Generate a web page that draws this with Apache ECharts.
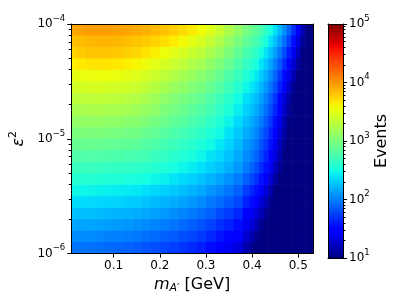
<!DOCTYPE html>
<html><head><meta charset="utf-8">
<script src="https://cdn.jsdelivr.net/npm/echarts@6/dist/echarts.min.js"></script>
<style>html,body{margin:0;padding:0;background:#fff}#c{width:399px;height:299px}</style>
</head><body><div id="c"></div>
<script>
// ---- data ----
const massCenters = [0.01,0.03,0.05,0.07,0.09,0.11,0.13,0.15,0.17,0.19,0.21,0.23,0.25,0.27,0.29,0.31,0.33,0.35,0.37,0.39,
  0.40,0.41,0.42,0.43,0.44,0.45,0.46,0.47,0.48,0.49,0.50,0.51,0.52,0.53];
const eps2Exponents = [-5.95,-5.85,-5.75,-5.65,-5.55,-5.45,-5.35,-5.25,-5.15,-5.05,-4.95,-4.85,-4.75,-4.65,-4.55,-4.45,-4.35,-4.25,-4.15,-4.05];
// log10(Events); one row per eps^2 value (bottom to top), one column per mass
const log10Events = [
[1.96,1.95,1.94,1.93,1.91,1.90,1.88,1.86,1.83,1.80,1.77,1.74,1.70,1.66,1.61,1.54,1.46,1.40,1.33,1.16,1.05,0.94,0.83,0.71,0.58,0.46,0.36,0.26,0.16,0.06,0.03,0.00,0.00,0.00],
[2.06,2.05,2.04,2.03,2.01,2.00,1.99,1.97,1.94,1.91,1.88,1.85,1.81,1.77,1.72,1.65,1.57,1.51,1.44,1.27,1.17,1.06,0.95,0.83,0.70,0.57,0.46,0.35,0.25,0.15,0.09,0.03,0.01,0.00],
[2.16,2.15,2.15,2.14,2.12,2.11,2.09,2.07,2.05,2.02,1.99,1.95,1.91,1.87,1.82,1.76,1.68,1.62,1.54,1.39,1.29,1.18,1.07,0.95,0.81,0.67,0.56,0.45,0.34,0.23,0.16,0.10,0.07,0.05],
[2.26,2.25,2.25,2.24,2.22,2.21,2.20,2.18,2.16,2.13,2.10,2.06,2.02,1.98,1.93,1.87,1.79,1.73,1.65,1.50,1.40,1.30,1.19,1.07,0.93,0.78,0.66,0.54,0.43,0.32,0.24,0.17,0.13,0.09],
[2.37,2.37,2.36,2.35,2.34,2.33,2.31,2.30,2.27,2.24,2.21,2.18,2.14,2.10,2.05,1.98,1.92,1.85,1.77,1.63,1.53,1.43,1.31,1.19,1.05,0.90,0.77,0.64,0.52,0.41,0.33,0.26,0.20,0.14],
[2.47,2.47,2.46,2.45,2.44,2.43,2.42,2.41,2.38,2.35,2.32,2.29,2.25,2.21,2.16,2.09,2.03,1.96,1.88,1.74,1.65,1.55,1.43,1.31,1.16,1.01,0.87,0.73,0.61,0.50,0.41,0.33,0.25,0.18],
[2.58,2.58,2.58,2.57,2.56,2.55,2.53,2.52,2.50,2.47,2.44,2.40,2.36,2.32,2.27,2.21,2.15,2.08,1.99,1.87,1.78,1.68,1.56,1.44,1.28,1.12,0.98,0.84,0.71,0.59,0.50,0.41,0.32,0.24],
[2.68,2.68,2.68,2.67,2.66,2.65,2.64,2.63,2.61,2.58,2.55,2.51,2.47,2.43,2.38,2.32,2.26,2.19,2.10,1.98,1.89,1.80,1.68,1.56,1.40,1.23,1.08,0.93,0.80,0.68,0.58,0.48,0.38,0.28],
[2.79,2.79,2.79,2.79,2.78,2.77,2.75,2.74,2.72,2.68,2.65,2.60,2.56,2.52,2.47,2.40,2.34,2.26,2.17,2.05,1.97,1.88,1.76,1.64,1.48,1.32,1.16,1.00,0.86,0.73,0.62,0.52,0.42,0.32],
[2.89,2.89,2.90,2.89,2.88,2.87,2.86,2.84,2.81,2.78,2.73,2.69,2.64,2.60,2.54,2.48,2.41,2.33,2.23,2.11,2.03,1.95,1.83,1.71,1.55,1.39,1.22,1.06,0.91,0.77,0.66,0.56,0.46,0.36],
[2.99,3.00,3.00,3.00,2.99,2.98,2.96,2.95,2.91,2.87,2.82,2.77,2.73,2.68,2.62,2.55,2.48,2.39,2.29,2.18,2.10,2.02,1.90,1.78,1.63,1.47,1.29,1.12,0.97,0.82,0.70,0.59,0.49,0.39],
[3.10,3.11,3.11,3.11,3.10,3.09,3.07,3.06,3.02,2.97,2.92,2.86,2.82,2.76,2.71,2.63,2.55,2.46,2.36,2.25,2.17,2.09,1.98,1.86,1.71,1.55,1.36,1.18,1.02,0.87,0.75,0.63,0.53,0.43],
[3.21,3.22,3.23,3.23,3.22,3.21,3.19,3.17,3.12,3.08,3.01,2.96,2.91,2.85,2.79,2.72,2.63,2.54,2.43,2.32,2.25,2.17,2.06,1.94,1.79,1.64,1.44,1.25,1.08,0.92,0.80,0.68,0.58,0.48],
[3.31,3.32,3.33,3.33,3.32,3.31,3.29,3.27,3.22,3.17,3.10,3.04,2.99,2.93,2.87,2.79,2.70,2.60,2.49,2.38,2.31,2.24,2.13,2.01,1.86,1.71,1.51,1.31,1.13,0.96,0.83,0.71,0.61,0.51],
[3.41,3.43,3.44,3.44,3.43,3.42,3.40,3.38,3.33,3.28,3.21,3.15,3.10,3.03,2.97,2.89,2.80,2.69,2.58,2.47,2.40,2.33,2.22,2.10,1.96,1.81,1.62,1.42,1.24,1.06,0.91,0.77,0.65,0.54],
[3.51,3.53,3.55,3.55,3.55,3.53,3.51,3.48,3.43,3.38,3.32,3.26,3.20,3.14,3.07,2.99,2.89,2.78,2.67,2.55,2.48,2.41,2.30,2.19,2.05,1.90,1.72,1.53,1.35,1.17,1.00,0.83,0.70,0.58],
[3.62,3.65,3.67,3.68,3.67,3.66,3.63,3.60,3.55,3.50,3.44,3.38,3.32,3.25,3.19,3.10,3.00,2.89,2.77,2.65,2.58,2.51,2.40,2.29,2.15,2.01,1.84,1.66,1.47,1.28,1.10,0.91,0.76,0.62],
[3.74,3.78,3.80,3.81,3.80,3.79,3.76,3.73,3.68,3.63,3.56,3.50,3.44,3.37,3.31,3.22,3.12,3.00,2.87,2.75,2.68,2.61,2.51,2.40,2.27,2.13,1.96,1.79,1.60,1.40,1.20,0.99,0.83,0.67],
[3.82,3.85,3.87,3.88,3.88,3.86,3.84,3.81,3.78,3.74,3.70,3.64,3.58,3.51,3.44,3.35,3.24,3.12,2.99,2.87,2.80,2.73,2.63,2.52,2.39,2.25,2.09,1.93,1.74,1.54,1.31,1.08,0.91,0.74],
[3.93,3.96,3.98,3.98,3.97,3.96,3.94,3.92,3.89,3.86,3.82,3.77,3.71,3.64,3.57,3.48,3.37,3.24,3.11,2.98,2.91,2.84,2.74,2.64,2.51,2.38,2.23,2.07,1.87,1.67,1.42,1.17,0.99,0.80]
];
const xTicks = [0.1, 0.2, 0.3, 0.4, 0.5];
const yDecadeExps = [-6, -5, -4];
const cbDecadeExps = [1, 2, 3, 4, 5];
const minorMultipliers = [2, 3, 4, 5, 6, 7, 8, 9];

// ---- styling / helpers ----
const FONT = 'DejaVu Sans';
function interp(pts, t) {
  for (let i = 1; i < pts.length; i++) {
    if (t <= pts[i][0]) {
      const [t0, v0] = pts[i - 1], [t1, v1] = pts[i];
      return v0 + (v1 - v0) * (t - t0) / (t1 - t0);
    }
  }
  return pts[pts.length - 1][1];
}
function jet(t) {
  const r = interp([[0,0],[0.35,0],[0.66,1],[0.89,1],[1,0.5]], t);
  const g = interp([[0,0],[0.125,0],[0.375,1],[0.64,1],[0.91,0],[1,0]], t);
  const b = interp([[0,0.5],[0.11,1],[0.34,1],[0.65,0],[1,0]], t);
  return 'rgb(' + Math.round(r*255) + ',' + Math.round(g*255) + ',' + Math.round(b*255) + ')';
}
const NSTOP = 64;
const jetColors = [];
for (let i = 0; i <= NSTOP; i++) jetColors.push(jet(i / NSTOP));
const cbStops = jetColors.map((c, i) => ({ offset: i / NSTOP, color: c }));

// cell edges along mass: midpoints between neighbouring centres
const nM = massCenters.length;
const massEdgeLo = massCenters.map((c, j) => j === 0 ? c - (massCenters[1] - c) / 2 : (massCenters[j - 1] + c) / 2);
const massEdgeHi = massCenters.map((c, j) => j === nM - 1 ? c + (c - massCenters[nM - 2]) / 2 : (c + massCenters[j + 1]) / 2);
const dL = eps2Exponents[1] - eps2Exponents[0];

const cMin = cbDecadeExps[0], cMax = cbDecadeExps[cbDecadeExps.length - 1];
const heatData = [];
eps2Exponents.forEach((L, k) => massCenters.forEach((m, j) => {
  const v = log10Events[k][j];
  heatData.push([m, Math.pow(10, L), Math.min(cMax, Math.max(cMin, v)), v, j]);
}));

const minorY = [];
yDecadeExps.slice(0, -1).forEach(e => minorMultipliers.forEach(k => minorY.push(e + Math.log10(k))));
const minorC = [];
cbDecadeExps.slice(0, -1).forEach(e => minorMultipliers.forEach(k => minorC.push(e + Math.log10(k))));

function powLabel(v) {
  const e = Math.round(Math.log10(v));
  return '{b|10}{s|' + (e < 0 ? '\u2212' : '') + Math.abs(e) + '}';
}
const tickRich = {
  b: { fontSize: 12, fontFamily: FONT, color: '#000' },
  s: { fontSize: 8.5, fontFamily: FONT, color: '#000', padding: [0, 0, 11, 0] }
};
const black = { color: '#000', width: 1 };
const lineOnly = (extra) => Object.assign({
  axisLine: { show: true, onZero: false, lineStyle: black },
  axisTick: { show: false }, axisLabel: { show: false }, splitLine: { show: false }, z: 10
}, extra);

const chart = echarts.init(document.getElementById('c'), null, { renderer: 'canvas', width: 399, height: 299 });
chart.setOption({
  animation: false,
  backgroundColor: '#fff',
  grid: [
    { left: 69, top: 24, width: 244, height: 234 },
    { left: 328, top: 24, width: 15, height: 234 }
  ],
  visualMap: {
    type: 'continuous', min: cMin, max: cMax, dimension: 2, seriesIndex: 0, show: false,
    inRange: { color: jetColors }
  },
  xAxis: [
    {
      gridIndex: 0, type: 'value', min: 0.008, max: 0.532, position: 'bottom', z: 10,
      axisLine: { show: true, onZero: false, lineStyle: black },
      axisTick: { show: true, customValues: xTicks, length: 4, lineStyle: black },
      axisLabel: { customValues: xTicks, formatter: v => v.toFixed(1), fontSize: 12, fontFamily: FONT, color: '#000', margin: 6 },
      splitLine: { show: false },
      name: '{i|m}{sub|A\u2032}{n| [GeV]}', nameLocation: 'middle', nameGap: 16,
      nameTextStyle: { rich: {
        i: { fontSize: 16, fontFamily: FONT, fontStyle: 'italic', color: '#000' },
        sub: { fontSize: 11, fontFamily: FONT, fontStyle: 'italic', color: '#000', padding: [8, 0, 0, 0] },
        n: { fontSize: 16, fontFamily: FONT, color: '#000' }
      } }
    },
    lineOnly({ gridIndex: 0, type: 'value', min: 0.008, max: 0.532, position: 'top' }),
    lineOnly({ gridIndex: 1, type: 'value', min: 0, max: 1, position: 'bottom' }),
    lineOnly({ gridIndex: 1, type: 'value', min: 0, max: 1, position: 'top' })
  ],
  yAxis: [
    {
      gridIndex: 0, type: 'log', logBase: 10, min: Math.pow(10, yDecadeExps[0]), max: Math.pow(10, yDecadeExps[yDecadeExps.length - 1]),
      position: 'left', z: 10,
      axisLine: { show: true, onZero: false, lineStyle: black },
      axisTick: { show: true, length: 4, lineStyle: black },
      axisLabel: { formatter: powLabel, margin: 6, rich: tickRich, showMinLabel: true, showMaxLabel: true },
      splitLine: { show: false },
      name: '{e|\u03b5}{s|2}', nameLocation: 'middle', nameRotate: 90, nameGap: 42,
      nameTextStyle: { rich: {
        e: { fontSize: 16, fontFamily: FONT, fontStyle: 'italic', color: '#000' },
        s: { fontSize: 11, fontFamily: FONT, color: '#000', padding: [0, 0, 10, 0] }
      } }
    },
    {
      gridIndex: 0, type: 'value', min: yDecadeExps[0], max: yDecadeExps[yDecadeExps.length - 1], position: 'left', z: 10,
      axisLine: { show: false, onZero: false },
      axisTick: { show: true, customValues: minorY, length: 2.5, lineStyle: black },
      axisLabel: { show: false }, splitLine: { show: false }
    },
    lineOnly({ gridIndex: 0, type: 'value', min: 0, max: 1, position: 'right' }),
    {
      gridIndex: 1, type: 'log', logBase: 10, min: Math.pow(10, cMin), max: Math.pow(10, cMax), position: 'right', z: 10,
      axisLine: { show: true, onZero: false, lineStyle: black },
      axisTick: { show: true, length: 4, lineStyle: black },
      axisLabel: { formatter: powLabel, margin: 6, rich: tickRich, showMinLabel: true, showMaxLabel: true },
      splitLine: { show: false },
      name: 'Events', nameLocation: 'middle', nameRotate: 90, nameGap: 30,
      nameTextStyle: { fontSize: 16, fontFamily: FONT, color: '#000' }
    },
    {
      gridIndex: 1, type: 'value', min: cMin, max: cMax, position: 'right', z: 10,
      axisLine: { show: false, onZero: false },
      axisTick: { show: true, customValues: minorC, length: 2.5, lineStyle: black },
      axisLabel: { show: false }, splitLine: { show: false }
    },
    lineOnly({ gridIndex: 1, type: 'value', min: 0, max: 1, position: 'left' })
  ],
  series: [
    {
      type: 'custom', coordinateSystem: 'cartesian2d', xAxisIndex: 0, yAxisIndex: 0, silent: true,
      encode: { x: 0, y: 1 },
      data: heatData,
      renderItem: function (params, api) {
        const j = api.value(4);
        const L = Math.log10(api.value(1));
        const p0 = api.coord([massEdgeLo[j], Math.pow(10, L - dL / 2)]);
        const p1 = api.coord([massEdgeHi[j], Math.pow(10, L + dL / 2)]);
        const cs = params.coordSys;
        const ov = 0.6; // small overlap hides anti-aliasing seams between cells
        const rect = echarts.graphic.clipRectByRect(
          { x: p0[0], y: p1[1] - ov, width: p1[0] - p0[0] + ov, height: p0[1] - p1[1] + ov },
          { x: cs.x, y: cs.y, width: cs.width, height: cs.height });
        if (!rect) return null;
        return { type: 'rect', shape: rect, style: { fill: api.visual('color') } };
      }
    },
    {
      type: 'custom', coordinateSystem: 'cartesian2d', xAxisIndex: 2, yAxisIndex: 3, silent: true,
      encode: { x: 0, y: 1 },
      data: [[0.5, Math.pow(10, (cMin + cMax) / 2)]],
      renderItem: function (params, api) {
        const p0 = api.coord([0, Math.pow(10, cMin)]);
        const p1 = api.coord([1, Math.pow(10, cMax)]);
        return {
          type: 'rect',
          shape: { x: p0[0], y: p1[1], width: p1[0] - p0[0], height: p0[1] - p1[1] },
          style: { fill: new echarts.graphic.LinearGradient(0, 1, 0, 0, cbStops) }
        };
      }
    }
  ]
});
</script>
</body></html>
